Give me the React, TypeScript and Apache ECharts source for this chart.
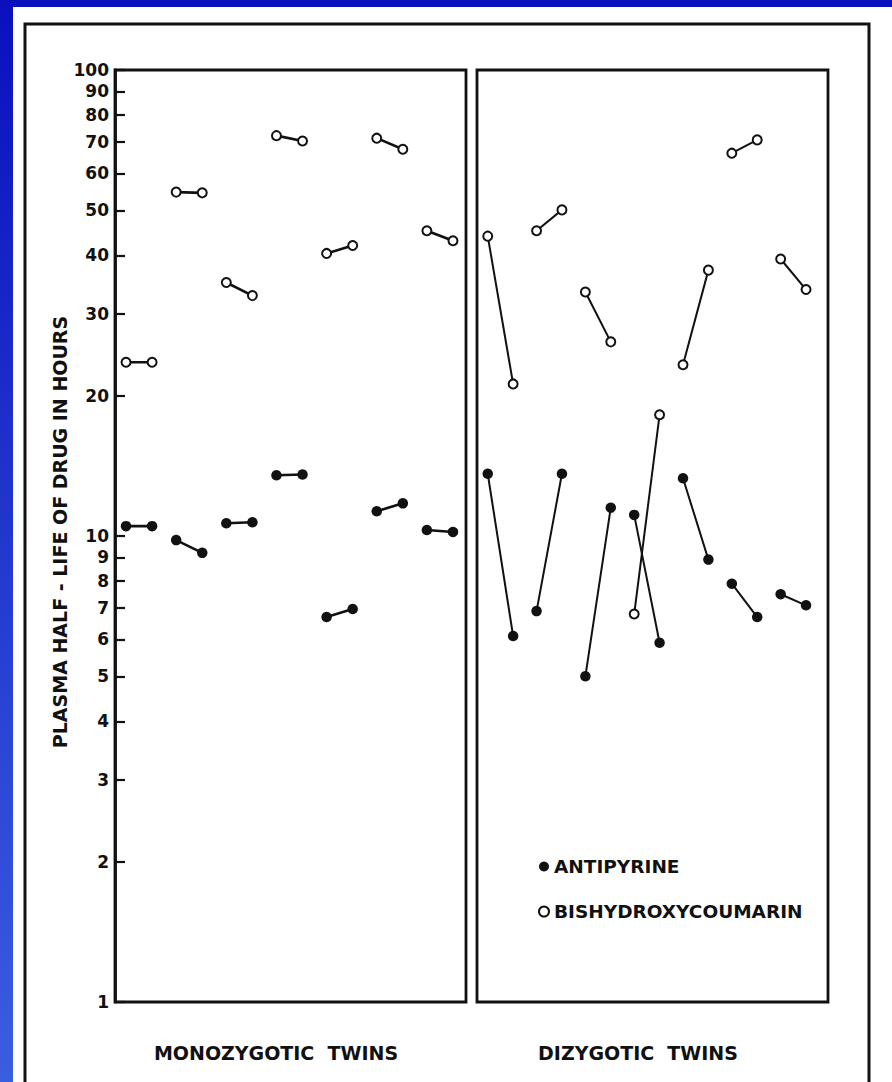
import React, { useEffect, useRef } from "react";
import * as echarts from "echarts";

// Plasma half-life (hours), twin A / twin B of each pair
const MZ_ANTIPYRINE_A = [10.5, 9.8, 10.65, 13.5, 6.7, 11.3, 10.3];
const MZ_ANTIPYRINE_B = [10.5, 9.2, 10.7, 13.55, 6.97, 11.75, 10.2];
const MZ_BHC_A = [23.6, 54.7, 35.0, 72.3, 40.4, 71.4, 45.2];
const MZ_BHC_B = [23.6, 54.5, 32.8, 70.4, 42.0, 67.6, 43.0];
const DZ_ANTIPYRINE_A = [13.6, 6.9, 5.0, 11.1, 13.3, 7.9, 7.5];
const DZ_ANTIPYRINE_B = [6.1, 13.6, 11.5, 5.9, 8.9, 6.7, 7.1];
const DZ_BHC_A = [44.0, 45.2, 33.4, 6.8, 23.3, 66.3, 39.3];
const DZ_BHC_B = [21.2, 50.1, 26.1, 18.2, 37.2, 70.8, 33.8];

const Y_TICK_VALUES = [1, 2, 3, 4, 5, 6, 7, 8, 9, 10, 20, 30, 40, 50, 60, 70, 80, 90, 100];
const GROUP_LABELS = ["MONOZYGOTIC  TWINS", "DIZYGOTIC  TWINS"];
const LEGEND_NAMES = ["ANTIPYRINE", "BISHYDROXYCOUMARIN"];
const Y_TITLE = "PLASMA HALF - LIFE OF DRUG IN HOURS";

const TWIN_OFFSET = [0.22, 0.74];
const FONT = '"DejaVu Sans", sans-serif';
const INK = "#111";

function pairs(a: number[], b: number[]) {
  const out: any[] = [];
  a.forEach((v, i) => {
    out.push([i + TWIN_OFFSET[0], v]);
    out.push([i + TWIN_OFFSET[1], b[i]]);
    out.push(null);
  });
  return out;
}

export default function App() {
  const ref = useRef<HTMLDivElement>(null);
  useEffect(() => {
    if (!ref.current) return;
    const chart = echarts.init(ref.current, null, { renderer: "svg" });
    const tickLogs = Y_TICK_VALUES.map((v) => Math.log10(v));
    const mkSeries = (name: string, data: any[], xi: number, yi: number, filled: boolean, lw: number) => ({
      type: "line",
      name,
      xAxisIndex: xi,
      yAxisIndex: yi,
      data,
      connectNulls: false,
      symbol: filled ? "circle" : "emptyCircle",
      symbolSize: filled ? 10.5 : 9,
      showSymbol: true,
      showAllSymbol: true,
      silent: true,
      lineStyle: { color: INK, width: lw },
      itemStyle: filled ? { color: INK } : { color: INK, borderColor: INK, borderWidth: 2.2 },
      z: filled ? 4 : 3,
    });
    chart.setOption({
      animation: false,
      backgroundColor: "#ffffff",
      grid: [
        { left: 115, top: 70, width: 351, height: 932, show: true, borderColor: INK, borderWidth: 2.8 },
        { left: 477, top: 70, width: 351, height: 932, show: true, borderColor: INK, borderWidth: 2.8 },
      ],
      xAxis: [
        { type: "value", gridIndex: 0, min: 0, max: 7, show: false },
        { type: "value", gridIndex: 1, min: 0, max: 7.19, show: false },
      ],
      yAxis: [
        { type: "log", logBase: 10, gridIndex: 0, min: 1, max: 100, show: false },
        {
          type: "value",
          gridIndex: 0,
          min: 0,
          max: 2,
          position: "left",
          axisLine: { show: true, lineStyle: { color: INK, width: 2.8 } },
          axisTick: { show: true, inside: true, length: 10, lineStyle: { color: INK, width: 2.2 }, customValues: tickLogs },
          axisLabel: {
            customValues: tickLogs,
            margin: 6,
            color: INK,
            fontFamily: FONT,
            fontWeight: "bold",
            fontSize: 17,
            formatter: (v: number) => String(Math.round(Math.pow(10, v))),
          },
          splitLine: { show: false },
        },
        { type: "log", logBase: 10, gridIndex: 1, min: 1, max: 100, show: false },
      ],
      legend: {
        orient: "vertical",
        left: 533,
        top: 852,
        itemGap: 26,
        itemWidth: 10,
        itemHeight: 10,
        selectedMode: false,
        textStyle: { fontFamily: FONT, fontWeight: "bold", fontSize: 18.5, color: INK },
        data: [
          { name: LEGEND_NAMES[0], icon: "circle", itemStyle: { color: INK, borderWidth: 0 } },
          { name: LEGEND_NAMES[1], icon: "circle", itemStyle: { color: "#fff", borderColor: INK, borderWidth: 2 } },
        ],
      },
      graphic: [
        { type: "rect", z: -10, shape: { x: 0, y: 0, width: 892, height: 7 }, style: { fill: "#0a10be" } },
        {
          type: "rect",
          z: -10,
          shape: { x: 0, y: 0, width: 13, height: 1082 },
          style: {
            fill: new echarts.graphic.LinearGradient(0, 0, 0, 1, [
              { offset: 0, color: "#0a10be" },
              { offset: 1, color: "#3a5ee0" },
            ]),
          },
        },
        { type: "rect", shape: { x: 25, y: 24, width: 844, height: 1080 }, style: { fill: "none", stroke: INK, lineWidth: 3 } },
        {
          type: "text",
          x: 60,
          y: 532,
          rotation: Math.PI / 2,
          style: { text: Y_TITLE, fill: INK, font: `bold 19px ${FONT}`, align: "center", verticalAlign: "middle" },
        },
        {
          type: "text",
          x: 276,
          y: 1053,
          style: { text: GROUP_LABELS[0], fill: INK, font: `bold 19px ${FONT}`, align: "center", verticalAlign: "middle" },
        },
        {
          type: "text",
          x: 638,
          y: 1053,
          style: { text: GROUP_LABELS[1], fill: INK, font: `bold 19px ${FONT}`, align: "center", verticalAlign: "middle" },
        },
      ],
      series: [
        mkSeries(LEGEND_NAMES[1], pairs(MZ_BHC_A, MZ_BHC_B), 0, 0, false, 2.6),
        mkSeries(LEGEND_NAMES[0], pairs(MZ_ANTIPYRINE_A, MZ_ANTIPYRINE_B), 0, 0, true, 2.6),
        mkSeries(LEGEND_NAMES[1], pairs(DZ_BHC_A, DZ_BHC_B), 1, 2, false, 2),
        mkSeries(LEGEND_NAMES[0], pairs(DZ_ANTIPYRINE_A, DZ_ANTIPYRINE_B), 1, 2, true, 2),
      ],
    });
    return () => chart.dispose();
  }, []);
  return <div ref={ref} style={{ position: "absolute", left: 0, top: 0, width: 892, height: 1082 }} />;
}
